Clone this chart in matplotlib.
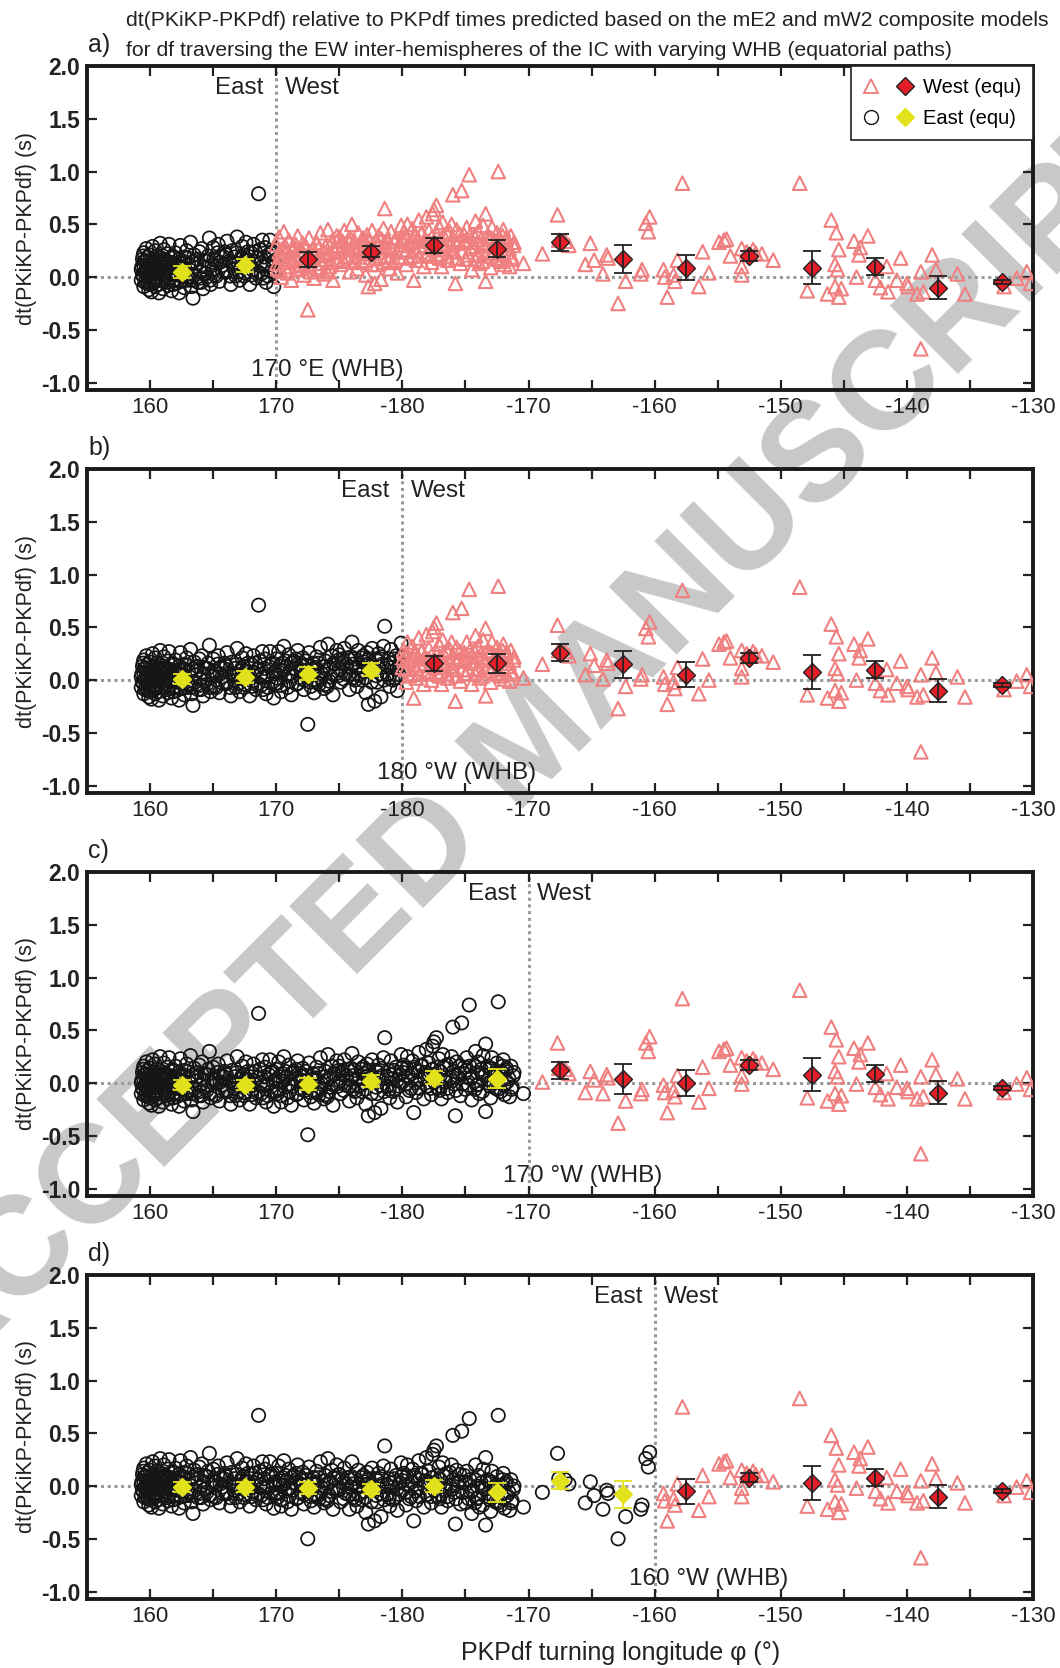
import numpy as np
import matplotlib
matplotlib.use('Agg')
import matplotlib.pyplot as plt
from matplotlib.lines import Line2D
from matplotlib.legend_handler import HandlerTuple
from matplotlib.ticker import MultipleLocator, FuncFormatter, FormatStrFormatter

plt.rcParams['font.family'] = ['Liberation Sans', 'DejaVu Sans']
plt.rcParams['axes.unicode_minus'] = False

# ---- data -----------------------------------------------------------------
# longitudes are unwrapped: 190 == -170, 230 == -130
bin_lon = [162.5, 167.5, 172.5, 177.5, 182.5, 187.5, 192.5,
           197.5, 202.5, 207.5, 212.5, 217.5, 222.5, 227.5]

whb_lon = [170, 180, 190, 200]
whb_text = ['170 \u00b0E (WHB)', '180 \u00b0W (WHB)', '170 \u00b0W (WHB)', '160 \u00b0W (WHB)']
panel_tags = ['a)', 'b)', 'c)', 'd)']

# binned means (diamonds) and their error bars, one list per panel
mean_a = [0.05, 0.11, 0.17, 0.24, 0.30, 0.27, 0.33, 0.17, 0.09, 0.20, 0.09, 0.10, -0.10, -0.05]
mean_b = [0.01, 0.03, 0.06, 0.10, 0.16, 0.16, 0.26, 0.15, 0.05, 0.21, 0.08, 0.10, -0.10, -0.05]
mean_c = [-0.02, -0.02, -0.01, 0.02, 0.05, 0.04, 0.12, 0.04, 0.00, 0.17, 0.08, 0.09, -0.09, -0.05]
mean_d = [-0.01, -0.01, -0.02, -0.03, 0.00, -0.06, 0.05, -0.08, -0.05, 0.08, 0.03, 0.08, -0.10, -0.05]

err_a = [0.055, 0.065, 0.07, 0.05, 0.07, 0.08, 0.08, 0.13, 0.12, 0.05, 0.16, 0.08, 0.11, 0.02]
err_b = [0.05, 0.06, 0.06, 0.06, 0.07, 0.09, 0.08, 0.13, 0.12, 0.05, 0.16, 0.08, 0.11, 0.02]
err_c = [0.05, 0.05, 0.06, 0.06, 0.06, 0.09, 0.08, 0.14, 0.12, 0.05, 0.16, 0.08, 0.11, 0.02]
err_d = [0.05, 0.05, 0.06, 0.05, 0.06, 0.09, 0.08, 0.13, 0.12, 0.04, 0.16, 0.08, 0.11, 0.02]

# individual measurements: turning longitude and residual from the bin mean
east_lon = [
    159.3, 159.3, 159.4, 159.4, 159.5, 159.5, 159.5, 159.6, 159.6, 159.7, 159.7, 159.8, 159.8, 159.9, 159.9, 159.9,
    160.0, 160.0, 160.1, 160.1, 160.2, 160.2, 160.3, 160.3, 160.4, 160.4, 160.5, 160.5, 160.6, 160.6, 160.7, 160.8, 160.8, 160.9, 160.9,
    161.0, 161.0, 161.1, 161.2, 161.2, 161.3, 161.4, 161.4, 161.5, 161.6, 161.6, 161.7, 161.8, 161.8, 161.9,
    162.0, 162.1, 162.2, 162.3, 162.3, 162.4, 162.5, 162.6, 162.7, 162.8, 162.9, 162.9,
    163.0, 163.1, 163.2, 163.3, 163.4, 163.5, 163.6, 163.7, 163.8, 163.9,
    164.0, 164.1, 164.2, 164.3, 164.5, 164.6, 164.7, 164.8, 164.9,
    165.0, 165.1, 165.2, 165.4, 165.5, 165.6, 165.7, 165.9,
    166.0, 166.1, 166.3, 166.4, 166.5, 166.7, 166.8, 166.9,
    167.0, 167.1, 167.3, 167.4, 167.5, 167.6, 167.8, 167.9,
    168.0, 168.1, 168.2, 168.4, 168.5, 168.6, 168.7, 168.8, 168.9,
    169.0, 169.1, 169.2, 169.4, 169.5, 169.6, 169.7, 169.8, 169.9,
    170.0, 170.1, 170.2, 170.3, 170.4, 170.5, 170.6, 170.7, 170.8, 170.9,
    171.0, 171.1, 171.2, 171.4, 171.5, 171.6, 171.7, 171.9,
    172.0, 172.1, 172.2, 172.4, 172.5, 172.6, 172.7, 172.9,
    173.0, 173.1, 173.2, 173.4, 173.5, 173.6, 173.8, 173.9,
    174.0, 174.1, 174.2, 174.4, 174.5, 174.6, 174.8, 174.9,
    175.0, 175.1, 175.3, 175.4, 175.5, 175.7, 175.8, 175.9,
    176.0, 176.1, 176.2, 176.4, 176.5, 176.6, 176.8, 176.9,
    177.0, 177.1, 177.2, 177.3, 177.5, 177.6, 177.8, 177.9,
    178.0, 178.1, 178.3, 178.4, 178.5, 178.6, 178.8, 178.9,
    179.0, 179.1, 179.2, 179.4, 179.5, 179.6, 179.8, 179.9,
    180.0, 180.1, 180.3, 180.4, 180.5, 180.7, 180.8, 180.9,
    181.0, 181.1, 181.3, 181.4, 181.5, 181.7, 181.8, 181.9,
    182.0, 182.1, 182.3, 182.4, 182.5, 182.6, 182.7, 182.8, 182.9,
    183.0, 183.1, 183.2, 183.4, 183.5, 183.6, 183.8, 183.9,
    184.0, 184.1, 184.2, 184.3, 184.5, 184.6, 184.7, 184.9,
    185.0, 185.1, 185.3, 185.4, 185.5, 185.7, 185.8, 185.9,
    186.0, 186.1, 186.3, 186.4, 186.6, 186.6, 186.8, 186.9,
    187.0, 187.1, 187.3, 187.4, 187.5, 187.6, 187.8, 187.9,
    188.0, 188.1, 188.2, 188.3, 188.5, 188.6, 188.7, 188.8,
]
east_res = [
    0.02, -0.08, 0.12, -0.03, 0.06, -0.14, 0.18, 0.00, -0.10, 0.10, 0.22, -0.05, 0.14, -0.17, 0.04, 0.09,
    -0.12, 0.16, 0.03, -0.19, 0.24, 0.08, -0.06, 0.12, -0.14, 0.20, 0.00, -0.09, 0.15, 0.05, -0.20, 0.10, 0.27, -0.03, 0.13,
    -0.16, 0.07, 0.21, -0.07, 0.11, 0.01, -0.13, 0.17, 0.26, -0.02, 0.09, -0.18, 0.14, 0.04, -0.08,
    0.18, -0.11, 0.06, -0.20, 0.12, 0.25, -0.04, 0.10, -0.15, 0.02, 0.20, -0.08,
    0.13, -0.06, 0.28, -0.14, -0.25, 0.16, 0.04, 0.08, -0.10, 0.19,
    0.00, 0.22, -0.16, 0.11, -0.05, 0.15, 0.32, -0.12, 0.06,
    0.17, -0.09, 0.05, 0.20, -0.15, 0.09, 0.00, 0.13,
    -0.06, 0.23, 0.04, -0.18, 0.14, 0.08, -0.10, 0.27,
    0.02, -0.14, 0.18, 0.10, -0.07, 0.22, 0.05, -0.18,
    0.12, -0.04, 0.20, -0.12, 0.07, 0.68, 0.15, -0.08, 0.24,
    0.00, 0.17, -0.16, 0.10, 0.24, -0.06, 0.13, -0.20, 0.05,
    0.14, -0.09, 0.21, 0.03, -0.17, 0.10, 0.26, -0.03, 0.07, -0.13,
    0.18, 0.00, -0.20, 0.12, 0.05, -0.10, 0.22, 0.08,
    -0.05, 0.15, -0.15, 0.03, -0.48, 0.20, -0.08, 0.10,
    -0.18, 0.06, 0.16, -0.10, 0.25, 0.00, -0.14, 0.12,
    0.04, 0.28, -0.07, 0.17, -0.20, 0.09, 0.22, -0.02,
    0.14, -0.12, 0.06, 0.20, -0.04, 0.11, -0.19, 0.02,
    0.26, -0.08, 0.10, -0.16, 0.18, 0.04, -0.10, 0.13,
    0.07, -0.22, 0.16, -0.33, 0.00, 0.20, -0.30, 0.10,
    -0.12, 0.15, -0.26, 0.05, 0.22, 0.41, -0.05, 0.10,
    -0.16, 0.19, 0.02, -0.08, 0.13, -0.20, 0.06, 0.25,
    -0.04, 0.12, -0.18, 0.20, 0.02, -0.10, 0.16, -0.33,
    0.08, -0.14, 0.24, -0.02, 0.11, -0.20, 0.05, 0.27,
    -0.08, 0.14, -0.16, 0.30, 0.34, 0.02, 0.38, -0.10, 0.18,
    0.06, -0.20, 0.22, -0.04, 0.12, -0.14, 0.00, 0.20,
    0.48, -0.06, -0.36, 0.15, 0.04, -0.17, 0.52, 0.10,
    -0.10, 0.20, 0.70, 0.00, -0.20, 0.12, 0.26, -0.06,
    0.16, -0.14, 0.05, 0.22, -0.31, 0.33, -0.04, 0.10,
    -0.18, 0.20, 0.02, -0.09, 0.15, 0.73, -0.12, 0.06,
    0.18, -0.15, 0.08, -0.03, -0.17, 0.12, -0.08, 0.03,
]

# tightly clustered measurements forming the dense core of the band
core_lon = [
    159.35, 159.45, 159.55, 159.65, 159.75, 159.85, 159.95, 159.45, 159.65,
    160.05, 160.15, 160.25, 160.35, 160.45, 160.55, 160.65, 160.75, 160.85, 160.95,
    161.05, 161.15, 161.25, 161.35, 161.45, 161.55, 161.65, 161.75, 161.85, 161.95,
    162.05, 162.25, 162.45, 162.65, 162.75, 162.95,
    163.05, 163.25, 163.45, 163.55, 163.75, 163.95,
    164.05, 164.25, 164.35, 164.55, 164.75, 164.95,
    165.05, 165.25, 165.35, 165.55, 165.75, 165.85,
    166.05, 166.15, 166.35, 166.55, 166.65, 166.85,
    167.05, 167.25, 167.45, 167.55, 167.75, 167.95,
    168.05, 168.25, 168.35, 168.55, 168.75, 168.95,
    169.05, 169.25, 169.35, 169.55, 169.75, 169.95,
    170.05, 170.25, 170.35, 170.55, 170.75, 170.95,
    171.05, 171.25, 171.35, 171.55, 171.75, 171.95,
    172.05, 172.25, 172.35, 172.55, 172.75, 172.95,
    173.05, 173.25, 173.35, 173.55, 173.75, 173.95,
    174.05, 174.25, 174.35, 174.55, 174.75, 174.95,
    175.05, 175.25, 175.35, 175.55, 175.75, 175.95,
    176.05, 176.25, 176.35, 176.55, 176.75, 176.95,
    177.05, 177.25, 177.35, 177.55, 177.75, 177.95,
    178.05, 178.25, 178.35, 178.55, 178.75, 178.95,
    179.05, 179.25, 179.35, 179.55, 179.75, 179.95,
    180.05, 180.25, 180.35, 180.55, 180.75, 180.95,
    181.05, 181.25, 181.35, 181.55, 181.75, 181.95,
    182.05, 182.25, 182.35, 182.55, 182.75, 182.95,
    183.05, 183.25, 183.35, 183.55, 183.75, 183.95,
    184.05, 184.25, 184.35, 184.55, 184.75, 184.95,
    185.05, 185.25, 185.35, 185.55, 185.75, 185.95,
    186.05, 186.25, 186.35, 186.55, 186.75, 186.95,
    187.05, 187.25, 187.35, 187.55, 187.75, 187.95,
    188.05, 188.25, 188.45, 188.65, 188.85,
]
core_res = [
    0.05, -0.04, 0.10, -0.08, 0.03, -0.11, 0.07, 0.15, 0.00,
    -0.02, 0.09, -0.09, 0.04, -0.05, 0.11, -0.12, 0.02, -0.07, 0.06,
    0.10, -0.04, 0.05, -0.10, 0.08, -0.06, 0.13, 0.00, -0.12, 0.07,
    -0.03, 0.09, -0.09, 0.04, 0.14, -0.05,
    0.07, -0.08, 0.10, -0.03, 0.12, -0.06,
    -0.10, 0.05, -0.02, 0.10, -0.08, 0.02,
    0.06, -0.10, 0.12, 0.03, -0.06, 0.08,
    0.10, -0.05, -0.10, 0.02, -0.03, 0.12,
    -0.06, 0.08, -0.10, 0.05, 0.13, 0.00,
    -0.09, 0.04, 0.13, -0.06, 0.02, -0.12,
    0.08, 0.00, -0.10, 0.12, 0.03, -0.06,
    -0.04, 0.07, -0.11, 0.03, 0.12, 0.00,
    -0.07, 0.10, -0.02, 0.14, -0.09, 0.04,
    0.08, -0.06, 0.12, 0.00, -0.12, 0.05,
    0.03, -0.08, 0.10, -0.04, 0.07, -0.10,
    -0.12, 0.06, -0.03, 0.10, 0.00, 0.13,
    0.00, 0.10, -0.09, 0.05, -0.05, 0.12,
    0.05, -0.10, 0.02, -0.05, 0.11, -0.02,
    -0.08, 0.05, 0.10, -0.12, 0.02, -0.06,
    0.08, -0.04, 0.12, -0.10, 0.04, -0.08,
    0.06, -0.10, 0.10, 0.00, -0.05, 0.12,
    0.05, -0.06, 0.09, -0.12, 0.04, 0.10,
    -0.05, 0.06, -0.10, 0.12, 0.00, -0.08,
    0.04, -0.10, 0.08, -0.04, 0.10, -0.12,
    -0.08, 0.10, 0.00, -0.10, 0.13, -0.03,
    0.06, -0.12, 0.02, 0.11, -0.06, 0.04,
    0.08, -0.06, 0.12, 0.02, -0.10, 0.06,
    -0.05, 0.09, -0.12, 0.03, 0.12, -0.07,
    0.10, -0.04, 0.06, -0.10, 0.03, 0.12,
    -0.06, 0.10, 0.00, -0.10, 0.06,
]

west_lon = [189.6, 191.1, 192.3, 192.4, 192.9, 193.2, 194.5, 194.9, 195.2, 195.9,
            196.2, 196.3, 197.1, 197.7, 198.9, 199.0, 199.3, 199.5, 199.6,
            200.7, 200.8, 201.0, 201.5, 201.6, 201.8, 202.2, 203.5, 203.8, 204.3,
            205.1, 205.5, 205.7, 206.0, 206.9, 206.9, 206.9, 207.3, 207.8, 208.0, 208.5, 209.4,
            211.5, 212.1, 213.7, 214.0, 214.4, 214.6, 214.3, 214.5, 214.3, 214.6, 214.8,
            215.8, 216.3, 216.9, 216.2, 216.0, 217.5, 217.9, 218.4, 218.5, 219.5, 219.2,
            220.0, 220.1, 221.1, 220.8, 221.3, 221.1, 222.0, 222.3, 224.0, 224.6,
            227.7, 228.7, 229.5, 229.8]
west_res = [-0.14, -0.11, 0.26, 0.02, 0.01, -0.03, -0.21, -0.01, -0.01, -0.14,
            0.04, 0.01, -0.42, -0.21, -0.14, -0.10, 0.34, 0.26, 0.40,
            -0.02, -0.09, -0.28, -0.07, -0.13, 0.07, 0.80, -0.18, 0.15, -0.05,
            0.13, 0.15, 0.16, 0.00, 0.07, -0.10, -0.18, 0.04, 0.06, 0.03, 0.02, -0.04,
            0.80, -0.22, -0.25, 0.45, 0.33, 0.17, 0.03, -0.02, -0.18, -0.28, -0.20,
            0.24, 0.18, 0.29, 0.11, -0.10, -0.13, -0.20, 0.00, -0.24, 0.08, -0.13,
            0.04, 0.01, 0.15, -0.06, -0.04, -0.58, 0.31, 0.17, 0.13, -0.06,
            -0.04, 0.04, 0.10, -0.01]

panel_means = [mean_a, mean_b, mean_c, mean_d]
panel_errs = [err_a, err_b, err_c, err_d]

# ---- style ----------------------------------------------------------------
tri_color = '#F08080'
red_fill = '#E41E26'
yel_fill = '#E2E21C'
dot_grey = '#9a9a9a'
ink = '#222222'


def lon_label(v, pos):
    v = int(round(v))
    return str(v - 360) if v >= 180 else str(v)


lon_all = np.array(east_lon + core_lon + west_lon)
res_all = np.array(east_res + core_res + west_res)
bins = np.array(bin_lon)

fig = plt.figure(figsize=(10.6, 16.68), dpi=100)

fig.text(0.505, 0.553, 'ACCEPTED MANUSCRIPT', rotation=45, fontsize=101,
         fontweight='bold', color='#c8c8c8', ha='center', va='center', zorder=-5)

bottoms = [0.7662, 0.5246, 0.2830, 0.0414]

for k in range(4):
    ax = fig.add_axes([0.0821, bottoms[k], 0.8925, 0.1942])
    ax.patch.set_alpha(0)
    means = np.array(panel_means[k])
    errs = np.array(panel_errs[k])
    whb = whb_lon[k]

    idx = np.clip(((lon_all - 160) // 5).astype(int), 0, len(bins) - 1)
    dt = res_all + means[idx]
    east = lon_all < whb

    ax.axhline(0, color=dot_grey, ls=(0, (1, 1.2)), lw=2.2, zorder=1)
    ax.axvline(whb, color=dot_grey, ls=(0, (1, 1.2)), lw=2.2, zorder=1)

    ax.scatter(lon_all[east], dt[east], s=92, marker='o', facecolors='none',
               edgecolors='#151515', linewidths=1.25, zorder=3)
    ax.scatter(lon_all[~east], dt[~east], s=95, marker='^', facecolors='none',
               edgecolors=tri_color, linewidths=1.5, zorder=3)

    for j in range(len(bins)):
        if bins[j] > whb:
            fc, ec, bc = red_fill, ink, ink
        else:
            fc, ec, bc = yel_fill, yel_fill, yel_fill
        ax.plot(bins[j], means[j], 'D', ms=9, mfc=fc, mec=ec, mew=1.0, zorder=5)
        ax.errorbar(bins[j], means[j], yerr=errs[j], fmt='none', ecolor=bc,
                    elinewidth=1.3, capsize=6.5, capthick=1.3, zorder=6)

    ax.text(whb - 1.0, 1.79, 'East', ha='right', va='center', fontsize=17.5, color=ink)
    ax.text(whb + 0.7, 1.79, 'West', ha='left', va='center', fontsize=17.5, color=ink)
    ax.text(whb - 2.0, -0.88, whb_text[k], ha='left', va='center', fontsize=17.5, color=ink)

    ax.set_xlim(155, 230)
    ax.set_ylim(-1.07, 2.0)
    ax.xaxis.set_major_locator(MultipleLocator(10))
    ax.xaxis.set_minor_locator(MultipleLocator(5))
    ax.yaxis.set_major_locator(MultipleLocator(0.5))
    ax.xaxis.set_major_formatter(FuncFormatter(lon_label))
    ax.yaxis.set_major_formatter(FormatStrFormatter('%.1f'))
    ax.tick_params(which='both', direction='in', top=True, right=True,
                   length=7, width=1.6, color=ink)
    ax.tick_params(axis='x', labelsize=16, pad=5, labelcolor=ink)
    ax.tick_params(axis='y', labelsize=16.5, pad=5, labelcolor=ink)
    for lab in ax.get_yticklabels():
        lab.set_fontweight('bold')
    for sp in ax.spines.values():
        sp.set_linewidth(2.8)
        sp.set_color('#1a1a1a')

    ax.set_ylabel('dt(PKiKP-PKPdf) (s)', fontsize=15.5, labelpad=3, color=ink)
    ax.annotate(panel_tags[k], xy=(0, 1), xycoords='axes fraction', xytext=(1, 15),
                textcoords='offset points', ha='left', va='center', fontsize=18, color=ink)

    if k == 0:
        h_w = (Line2D([], [], ls='none', marker='^', ms=10, mfc='none', mec=tri_color, mew=1.4),
               Line2D([], [], ls='none', marker='D', ms=9, mfc=red_fill, mec=ink, mew=1.0))
        h_e = (Line2D([], [], ls='none', marker='o', ms=10, mfc='none', mec='#151515', mew=1.0),
               Line2D([], [], ls='none', marker='D', ms=9, mfc=yel_fill, mec=yel_fill))
        leg = ax.legend([h_w, h_e], ['West (equ)', 'East (equ)'],
                        handler_map={tuple: HandlerTuple(ndivide=None, pad=1.0)},
                        loc='upper right', borderaxespad=0, fancybox=False,
                        edgecolor=ink, framealpha=1, fontsize=14.5, handlelength=2.4,
                        handletextpad=0.55, borderpad=0.6, labelspacing=0.6)
        leg.get_frame().set_linewidth(1.2)
        leg.set_zorder(10)

fig.text(126 / 1060, 1 - 20 / 1668,
         'dt(PKiKP-PKPdf) relative to PKPdf times predicted based on the mE2 and mW2 composite models',
         ha='left', va='center', fontsize=15.2, color=ink)
fig.text(126 / 1060, 1 - 50 / 1668,
         'for df traversing the EW inter-hemispheres of the IC with varying WHB (equatorial paths)',
         ha='left', va='center', fontsize=15.2, color=ink)
fig.text(621 / 1060, 1 - 1653 / 1668, 'PKPdf turning longitude \u03c6 (\u00b0)',
         ha='center', va='center', fontsize=18, color=ink)

fig.savefig('out.png', dpi=100)
